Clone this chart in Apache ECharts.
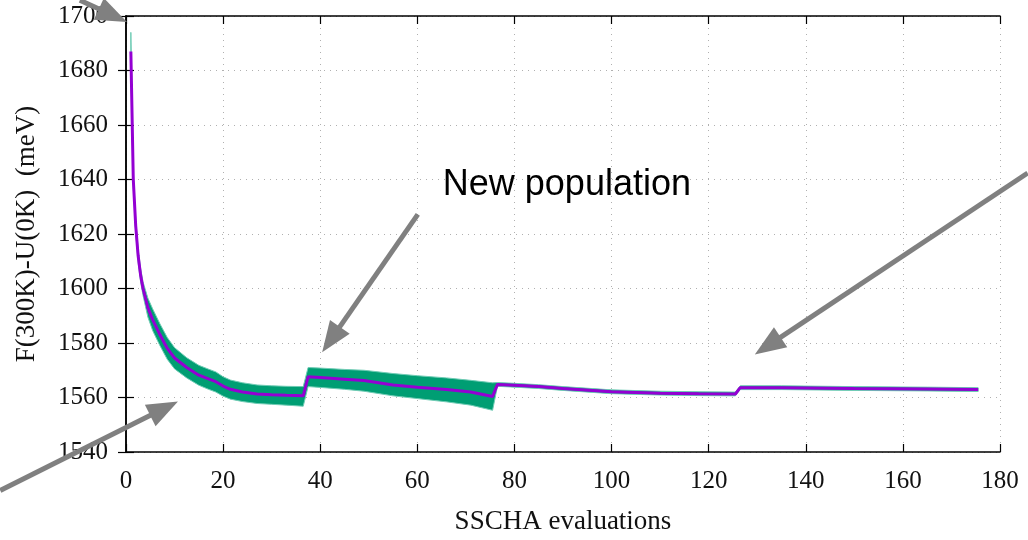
<!DOCTYPE html>
<html>
<head>
<meta charset="utf-8">
<script src="https://cdn.jsdelivr.net/npm/echarts@6/dist/echarts.min.js"></script>
<style>
  html, body { margin: 0; padding: 0; background: #fff; }
  #sscha { width: 1028px; height: 540px; }
</style>
</head>
<body>
<div id="sscha"></div>
<script>
  // SSCHA evaluation index (x) and free energy
  const evalX = [1, 1.5, 2, 2.5, 3, 3.5, 4.5, 5.5, 7, 8.5, 10, 12.5, 15, 17, 18.5, 20, 21.5, 24, 27, 30, 33, 36.5,
    37.5, 40, 45, 49, 55, 60, 66, 71, 75.5,
    76.5, 80, 85, 90, 100, 110, 118, 125.5,
    126.5, 135, 150, 165, 175.5]
  const freeEnergy = [1687, 1640, 1623, 1612, 1605, 1600, 1593, 1588.5, 1583, 1578, 1574.5, 1571, 1568.2, 1566.8, 1565.8, 1564.2, 1563, 1562, 1561.3, 1561, 1560.8, 1560.6,
    1567.6, 1567.3, 1566.7, 1566.2, 1564.6, 1563.8, 1562.9, 1562, 1560.4,
    1564.8, 1564.5, 1564, 1563.3, 1562.1, 1561.6, 1561.4, 1561.3,
    1563.6, 1563.6, 1563.3, 1563.1, 1562.9]
  const bandLow = [1682, 1637, 1620.5, 1609.5, 1602.5, 1597.5, 1589.5, 1584.5, 1579, 1574, 1570.5, 1567.2, 1564.5, 1563, 1562, 1560.5, 1559.4, 1558.5, 1557.8, 1557.5, 1557.2, 1556.8,
    1564, 1563.7, 1563, 1562.3, 1560.6, 1559.6, 1558.4, 1557.2, 1555.3,
    1564.1, 1563.8, 1563.3, 1562.6, 1561.4, 1560.9, 1560.7, 1560.6,
    1562.9, 1562.9, 1562.6, 1562.4, 1562.2]
  const bandHigh = [1694, 1643, 1625.5, 1614.5, 1607.5, 1602.5, 1596.5, 1592.5, 1587, 1582, 1578.3, 1574.6, 1571.8, 1570.4, 1569.4, 1567.6, 1566.4, 1565.4, 1564.6, 1564.3, 1564.1, 1564,
    1571, 1570.8, 1570.3, 1570, 1568.8, 1568, 1567.2, 1566.3, 1565.4,
    1565.5, 1565.2, 1564.7, 1564, 1562.8, 1562.3, 1562.1, 1562,
    1564.3, 1564.3, 1564, 1563.8, 1563.6]

  // annotation arrows: [tailX, tailY, headX, headY] in data units
  const arrows = [
    [-9.5, 1705.8, 0.2, 1697.8],
    [-25.9, 1525.9, 10.7, 1558.5],
    [60.1, 1627.2, 40.4, 1576.6],
    [185.7, 1642.4, 129.5, 1575.8]
  ]
  const noteText = 'New population'
  const notePos = [90.8, 1638]

  const serif = 'Liberation Serif'
  let myChart = echarts.init(document.getElementById('sscha'))

  const axisCommon = {
    axisLine: { show: true, lineStyle: { color: '#000', width: 1.5 } },
    axisTick: { show: true, inside: true, length: 8, lineStyle: { color: '#000', width: 1.2 } },
    splitLine: { show: false }
  }
  const plain = function (v) { return String(v) }

  const option = {
    animation: false,
    grid: { left: 126, right: 28, top: 16, bottom: 82 },
    xAxis: [
      Object.assign({
        type: 'value', min: 0, max: 180, interval: 20, position: 'bottom',
        name: 'SSCHA evaluations', nameLocation: 'middle', nameGap: 56,
        nameTextStyle: { fontFamily: serif, fontSize: 27, color: '#111' },
        axisLabel: { fontFamily: serif, fontSize: 25, color: '#111', margin: 17, formatter: plain },
        splitLine: { show: true, lineStyle: { color: '#b0b0b0', type: [1, 5], width: 1 } }
      }, { axisLine: axisCommon.axisLine, axisTick: axisCommon.axisTick }),
      Object.assign({
        type: 'value', min: 0, max: 180, interval: 20, position: 'top',
        axisLabel: { show: false }
      }, axisCommon)
    ],
    yAxis: [
      Object.assign({
        type: 'value', min: 1540, max: 1700, interval: 20, position: 'left',
        name: 'F(300K)-U(0K)  (meV)', nameLocation: 'middle', nameGap: 86,
        nameTextStyle: { fontFamily: serif, fontSize: 27, color: '#111' },
        axisLabel: { fontFamily: serif, fontSize: 25, color: '#111', margin: 18, formatter: plain },
        splitLine: { show: true, lineStyle: { color: '#b0b0b0', type: [1, 5], width: 1 } }
      }, { axisLine: axisCommon.axisLine, axisTick: axisCommon.axisTick }),
      Object.assign({
        type: 'value', min: 1540, max: 1700, interval: 20, position: 'right',
        axisLabel: { show: false }
      }, axisCommon)
    ],
    series: [
      {
        // error band as one polygon through the axis scales
        type: 'custom',
        name: 'band',
        data: [0],
        z: 2,
        renderItem: function (params, api) {
          let pts = []
          for (let i = 0; i < evalX.length; i++) pts.push(api.coord([evalX[i], bandHigh[i]]))
          for (let i = evalX.length - 1; i >= 0; i--) pts.push(api.coord([evalX[i], bandLow[i]]))
          return {
            type: 'polygon',
            shape: { points: pts },
            style: { fill: '#009e73', stroke: '#6fcbb4', lineWidth: 1 }
          }
        }
      },
      {
        type: 'line',
        name: 'mean',
        z: 3,
        showSymbol: false,
        symbol: 'none',
        lineStyle: { color: '#9400d3', width: 3 },
        data: evalX.map(function (x, i) { return [x, freeEnergy[i]] })
      }
    ]
  }
  myChart.setOption(option)

  // arrows and label placed from data coordinates
  function px (p) {
    return myChart.convertToPixel({ xAxisIndex: 0, yAxisIndex: 0 }, p)
  }
  let graphics = []
  arrows.forEach(function (a) {
    let t = px([a[0], a[1]])
    let h = px([a[2], a[3]])
    let dx = h[0] - t[0]
    let dy = h[1] - t[1]
    let len = Math.sqrt(dx * dx + dy * dy)
    let ux = dx / len
    let uy = dy / len
    let headLen = 31
    let headHalf = 12
    let bx = h[0] - ux * headLen
    let by = h[1] - uy * headLen
    graphics.push({
      type: 'line',
      z: 100,
      shape: { x1: t[0], y1: t[1], x2: bx + ux * 2, y2: by + uy * 2 },
      style: { stroke: '#808080', lineWidth: 5 }
    })
    graphics.push({
      type: 'polygon',
      z: 100,
      shape: { points: [[h[0], h[1]], [bx - uy * headHalf, by + ux * headHalf], [bx + uy * headHalf, by - ux * headHalf]] },
      style: { fill: '#808080' }
    })
  })
  let np = px(notePos)
  graphics.push({
    type: 'text',
    z: 100,
    x: np[0],
    y: np[1],
    style: {
      text: noteText,
      fontFamily: 'Liberation Sans',
      fontSize: 36,
      fill: '#000',
      align: 'center',
      verticalAlign: 'middle'
    }
  })
  myChart.setOption({ graphic: graphics })
</script>
</body>
</html>
